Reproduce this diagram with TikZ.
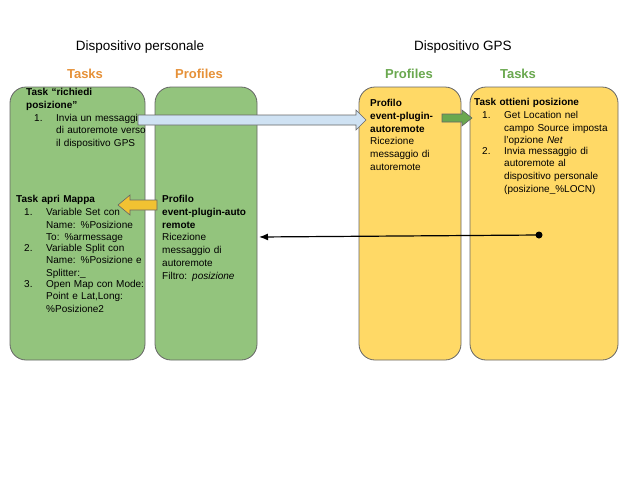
\documentclass[tikz,border=0pt]{standalone}
\usepackage{fontspec}
\setmainfont{Liberation Sans}
\usetikzlibrary{arrows.meta}
\definecolor{gfill}{HTML}{93C47D}
\definecolor{yfill}{HTML}{FFD966}
\definecolor{bord}{HTML}{666666}
\definecolor{otxt}{HTML}{E69138}
\definecolor{gtxt}{HTML}{6AA84F}
\definecolor{bfill}{HTML}{CFE2F3}
\definecolor{ofill}{HTML}{F1C232}
\newcommand{\itm}[3]{\par\noindent\makebox[30pt][l]{\hspace{8pt}#1}\parbox[t]{#2}{\raggedright #3}}
\begin{document}
\begin{tikzpicture}[x=1pt,y=-1pt,
  box/.style={draw=bord,line width=0.8pt,rounded corners=16pt},
  txt/.style={inner sep=0pt,anchor=north west,align=left,font=\fontsize{10}{12.8}\selectfont},
  head/.style={font=\fontsize{13.5}{15}\selectfont},
  col/.style={font=\bfseries\fontsize{13}{15}\selectfont},
  arr/.style={draw=bord,line width=0.6pt}]
\useasboundingbox (0,0) rectangle (640,480);
\fill[white] (0,0) rectangle (640,480);
\node[head] (dp) at (140,47) {Dispositivo personale};
\node[head] (dg) at (463,47) {Dispositivo GPS};
\node[col,text=otxt] (t1) at (85,74) {Tasks};
\node[col,text=otxt] (p1) at (199,74) {Profiles};
\node[col,text=gtxt] (p2) at (409,74) {Profiles};
\node[col,text=gtxt] (t2) at (518,74) {Tasks};
\draw[box,fill=gfill] (10,87) rectangle (145,360);
\draw[box,fill=gfill] (155,87) rectangle (257,360);
\draw[box,fill=yfill] (359,87) rectangle (461,360);
\draw[box,fill=yfill] (470,87) rectangle (618,360);
\node[txt,text width=135pt] (a) at (26,88) {\textbf{Task “richiedi}\par\textbf{posizione”}\itm{1.}{96pt}{Invia un messaggio di autoremote verso il dispositivo GPS}};
\node[txt,text width=130pt] (b) at (16,195) {\textbf{Task apri Mappa}\itm{1.}{100pt}{Variable Set con Name: \%Posizione To: \%armessage}\itm{2.}{100pt}{Variable Split con Name: \%Posizione e Splitter:\_}\itm{3.}{100pt}{Open Map con Mode: Point e Lat,Long: \%Posizione2}};
\node[txt,text width=98pt] (c) at (162,195) {\textbf{Profilo}\par\textbf{event-plugin-auto}\par\textbf{remote}\par Ricezione\par messaggio di\par autoremote\par Filtro: \textit{posizione}};
\node[txt,text width=85pt] (d) at (370,99) {\textbf{Profilo}\par\textbf{event-plugin-}\par\textbf{autoremote}\par Ricezione\par messaggio di\par autoremote};
\node[txt,text width=145pt] (e) at (474,98) {\textbf{Task ottieni posizione}\itm{1.}{105pt}{Get Location nel campo Source imposta l'opzione \textit{Net}}\itm{2.}{105pt}{Invia messaggio di autoremote al dispositivo personale (posizione\_\%LOCN)}};
\draw[arr,fill=bfill] (138,115) -- (356,115) -- (356,110) -- (366,120) -- (356,130) -- (356,125) -- (138,125) -- cycle;
\draw[arr,fill=gtxt] (442,114) -- (462,114) -- (462,110) -- (472,118) -- (462,126) -- (462,122) -- (442,122) -- cycle;
\draw[arr,fill=ofill] (157,200) -- (130,200) -- (130,195) -- (118,205) -- (130,215) -- (130,210) -- (157,210) -- cycle;
\coordinate (dot) at (539,235);
\coordinate (end) at (259,237);
\fill (dot) circle (3.5pt);
\draw[line width=1.2pt,-{Latex[length=9pt,width=7pt]}] (dot) -- (end);
\end{tikzpicture}
\end{document}
